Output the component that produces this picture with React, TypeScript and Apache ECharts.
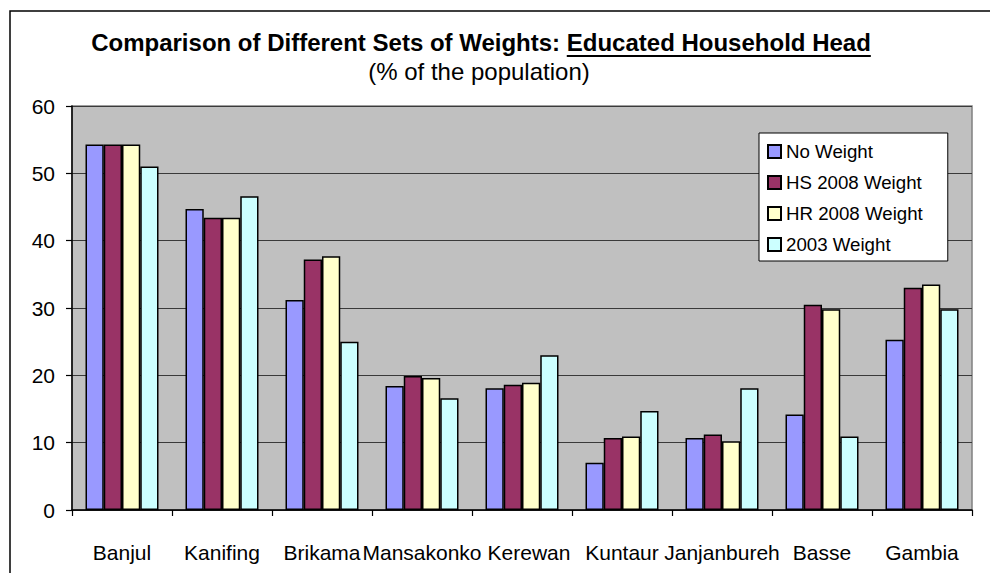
import React, { useEffect, useRef } from "react";
import * as echarts from "echarts";

const categories = ["Banjul", "Kanifing", "Brikama", "Mansakonko", "Kerewan", "Kuntaur", "Janjanbureh", "Basse", "Gambia"];
const noWeight = [54.3, 44.7, 31.2, 18.4, 18.1, 7.0, 10.7, 14.2, 25.3];
const hs2008 = [54.3, 43.4, 37.2, 19.9, 18.6, 10.7, 11.2, 30.5, 33.0];
const hr2008 = [54.3, 43.4, 37.7, 19.6, 18.9, 10.9, 10.2, 29.8, 33.5];
const w2003 = [51.0, 46.6, 25.0, 16.6, 23.0, 14.7, 18.1, 10.9, 29.8];
const seriesNames = ["No Weight", "HS 2008 Weight", "HR 2008 Weight", "2003 Weight"];
const seriesColors = ["#9999FF", "#993366", "#FFFFCC", "#CCFFFF"];
const titlePrefix = "Comparison of Different Sets of Weights: ";
const titleUnderlined = "Educated Household Head";
const subtitle = "(% of the population)";

const FONT = "'Liberation Sans', Arial, sans-serif";

function measure(text: string, font: string): number {
  const c = document.createElement("canvas");
  const ctx = c.getContext("2d");
  if (!ctx) return text.length * 12;
  ctx.font = font;
  return ctx.measureText(text).width;
}

export default function App() {
  const ref = useRef<HTMLDivElement>(null);
  useEffect(() => {
    if (!ref.current) return;
    const chart = echarts.init(ref.current, undefined, { renderer: "svg" });
    const titleFont = `bold 24px ${FONT}`;
    const fullW = measure(titlePrefix + titleUnderlined, titleFont);
    const prefW = measure(titlePrefix, titleFont);
    const cx = 481;
    const left = cx - fullW / 2;
    const uStart = left + prefW;
    const uEnd = left + fullW;

    const data = [noWeight, hs2008, hr2008, w2003];
    chart.setOption({
      animation: false,
      backgroundColor: "#ffffff",
      textStyle: { fontFamily: FONT },
      grid: {
        left: 72,
        top: 106,
        width: 900,
        height: 404,
        show: true,
        backgroundColor: "#C0C0C0",
        borderColor: "#808080",
        borderWidth: 1.5,
      },
      legend: {
        orient: "vertical",
        left: 759,
        top: 133,
        padding: [9, 25, 7, 8],
        itemWidth: 13,
        itemHeight: 13,
        itemGap: 12,
        icon: "rect",
        backgroundColor: "#ffffff",
        borderColor: "#000000",
        borderWidth: 1,
        textStyle: { fontSize: 18.7, color: "#000", lineHeight: 19, fontFamily: FONT },
        data: seriesNames,
      },
      xAxis: {
        type: "category",
        data: categories,
        axisLine: { lineStyle: { color: "#000", width: 1.5 } },
        axisTick: { show: true, length: 6, lineStyle: { color: "#000", width: 1.2 } },
        axisLabel: {
          color: "#000",
          fontSize: 21,
          margin: 32,
          fontFamily: FONT,
          interval: 0,
          formatter: (v: string) => (v === "Kerewan" ? `{k|${v}}` : v),
          rich: { k: { fontSize: 21, color: "#000", fontFamily: FONT, padding: [0, 0, 0, 14] } },
        },
        splitLine: { show: false },
      },
      yAxis: {
        type: "value",
        min: 0,
        max: 60,
        interval: 10,
        axisLine: { show: true, lineStyle: { color: "#000", width: 1.5 } },
        axisTick: { show: true, length: 6, lineStyle: { color: "#000", width: 1.2 } },
        axisLabel: { color: "#000", fontSize: 21, margin: 17, fontFamily: FONT },
        splitLine: { show: true, lineStyle: { color: "#3a3a3a", width: 1 } },
      },
      series: seriesNames.map((name, i) => ({
        name,
        type: "bar",
        data: data[i],
        barGap: "0%",
        barCategoryGap: "27%",
        itemStyle: { color: seriesColors[i], borderColor: "#000", borderWidth: 1.5 },
      })),
      graphic: [
        {
          type: "rect",
          z: -10,
          silent: true,
          shape: { x: 10, y: 11, width: 1000, height: 600 },
          style: { fill: "none", stroke: "#000", lineWidth: 1.5 },
        },
        {
          type: "text",
          x: cx,
          y: 42,
          style: {
            text: titlePrefix + titleUnderlined,
            font: titleFont,
            fill: "#000",
            align: "center",
            verticalAlign: "middle",
          },
        },
        {
          type: "line",
          shape: { x1: uStart, y1: 56, x2: uEnd, y2: 56 },
          style: { stroke: "#000", lineWidth: 2 },
        },
        {
          type: "text",
          x: 479,
          y: 71.5,
          style: {
            text: subtitle,
            font: `24px ${FONT}`,
            fill: "#000",
            align: "center",
            verticalAlign: "middle",
          },
        },
      ],
    });
    return () => chart.dispose();
  }, []);
  return <div ref={ref} style={{ position: "fixed", left: 0, top: 0, width: 990, height: 573 }} />;
}
